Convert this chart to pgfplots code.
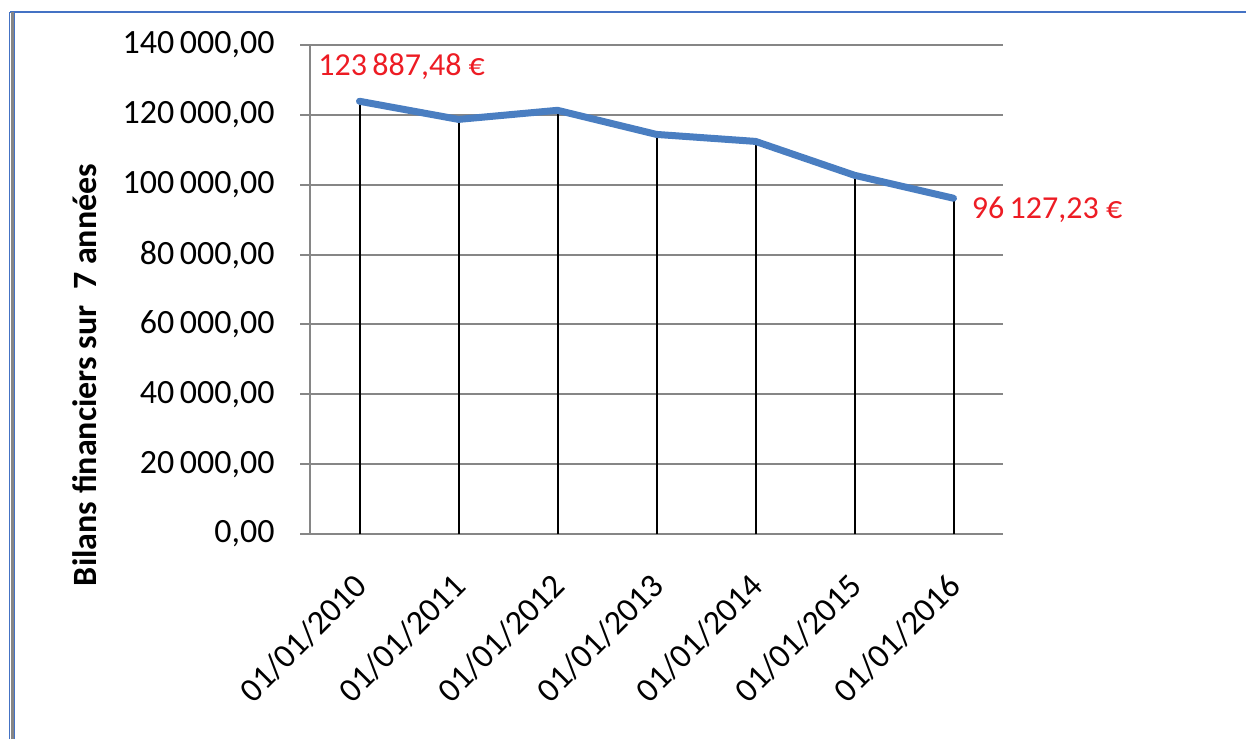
\documentclass[border=0pt]{standalone}
\usepackage{pgfplots}
\pgfplotsset{compat=1.18}
\usepackage{fontspec}
\setmainfont{Carlito}
\definecolor{lineblue}{RGB}{74,126,193}
\definecolor{labred}{RGB}{237,28,36}
\definecolor{gridgray}{RGB}{134,134,134}
\definecolor{frameblue}{RGB}{68,114,196}
\begin{document}
\begin{tikzpicture}
\useasboundingbox (0pt,0pt) rectangle (623pt,369.5pt);
% frame
\draw[frameblue, line width=1pt] (5pt,363.25pt) -- (623pt,363.25pt);
\draw[gridgray, line width=1.5pt] (6pt,0pt) -- (6pt,363.25pt);
\draw[frameblue, line width=0.4pt] (4.75pt,0pt) -- (4.75pt,363.25pt);
\draw[frameblue, line width=0.4pt] (7.25pt,0pt) -- (7.25pt,363.25pt);
\begin{axis}[
  at={(155pt,102.5pt)}, anchor=south west,
  scale only axis, width=346.5pt, height=244.5pt,
  xmin=-0.5, xmax=6.5, ymin=0, ymax=140000,
  scaled y ticks=false,
  axis x line*=bottom, axis y line*=left,
  axis line style={draw=gridgray, line width=1pt, -},
  xtick={0,...,6},
  xticklabels={01/01/2010,01/01/2011,01/01/2012,01/01/2013,01/01/2014,01/01/2015,01/01/2016},
  xtick style={draw=none},
  xticklabel style={rotate=45, anchor=north east, font=\fontsize{17}{18}\selectfont, inner sep=0pt, xshift=-12pt, yshift=-7pt},
  ytick={0,20000,40000,60000,80000,100000,120000,140000},
  yticklabels={{0,00},{20\,000,00},{40\,000,00},{60\,000,00},{80\,000,00},{100\,000,00},{120\,000,00},{140\,000,00}},
  yticklabel style={font=\fontsize{17}{18}\selectfont, inner sep=0pt, anchor=east, xshift=-12.5pt},
  tick align=outside, major tick length=5pt,
  ytick style={draw=gridgray, line width=1pt},
  ymajorgrids, grid style={draw=gridgray, line width=1pt},
  clip=false,
]
\addplot[ycomb, black, line width=1pt, mark=none] coordinates {
(0,123887.48) (1,118700) (2,121300) (3,114400) (4,112400) (5,102700) (6,96127.23)};
\addplot[lineblue, line width=3.5pt, mark=none, line join=round, line cap=round] coordinates {
(0,123887.48) (1,118700) (2,121300) (3,114400) (4,112400) (5,102700) (6,96127.23)};
\node[anchor=west, text=labred, font=\fontsize{16}{18}\selectfont, inner sep=0pt] at (axis cs:0,123887.48) [xshift=-20.75pt, yshift=17.5pt] {123\,887,48 €};
\node[anchor=west, text=labred, font=\fontsize{16}{18}\selectfont, inner sep=0pt] at (axis cs:6,96127.23) [xshift=9pt, yshift=-6pt] {96\,127,23 €};
\end{axis}
\node[rotate=90, font=\bfseries\fontsize{17}{18}\selectfont, inner sep=0pt] at (42.5pt,182pt) {Bilans financiers sur \ 7 années};
\end{tikzpicture}
\end{document}
